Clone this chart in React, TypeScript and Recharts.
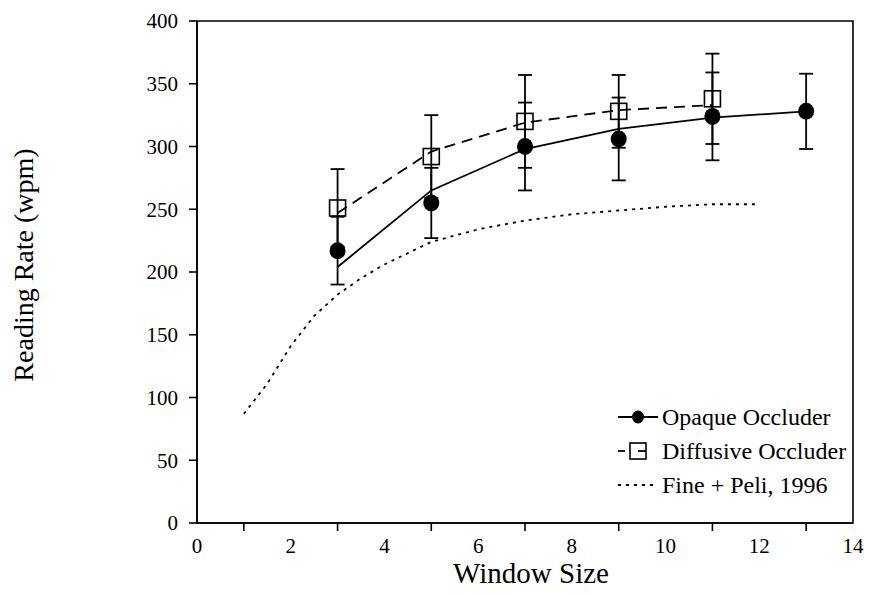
import {
  ComposedChart,
  ErrorBar,
  Label,
  Legend,
  Line,
  ReferenceArea,
  Scatter,
  XAxis,
  YAxis,
} from 'recharts';

const FONT = "'Liberation Serif', 'Times New Roman', serif";
const INK = '#000';

// window sizes (letters)
const opaqueSizes = [3, 5, 7, 9, 11, 13];
const opaqueMean = [217, 255, 300, 306, 324, 328];
const opaqueErr = [27, 28, 35, 33, 35, 30];
const opaqueFit = [204, 265, 298, 314, 323, 328];

const diffuseSizes = [3, 5, 7, 9, 11];
const diffuseMean = [251, 292, 320, 328, 338];
const diffuseErr = [31, 33, 37, 29, 36];
const diffuseFit = [247, 296, 319, 329, 333];

const finePeliSizes = [1, 1.5, 2, 2.5, 3, 3.5, 4, 5, 6, 7, 8, 9, 10, 11, 12];
const finePeliRate = [87, 111, 141, 165, 182, 195, 206, 224, 234, 241, 246, 249, 252, 254, 254];

const xTicks = [0, 1, 2, 3, 4, 5, 6, 7, 8, 9, 10, 11, 12, 13, 14];
const yTicks = [0, 50, 100, 150, 200, 250, 300, 350, 400];

const SERIES_OPAQUE = 'Opaque Occluder';
const SERIES_DIFFUSE = 'Diffusive Occluder';
const SERIES_FP = 'Fine + Peli, 1996';

const rows = (xs: number[], ys: number[], errs?: number[]) =>
  xs.map((x, i) => ({ x, y: ys[i], err: errs ? errs[i] : 0 }));

const opaquePoints = rows(opaqueSizes, opaqueMean, opaqueErr);
const opaqueCurve = rows(opaqueSizes, opaqueFit);
const diffusePoints = rows(diffuseSizes, diffuseMean, diffuseErr);
const diffuseCurve = rows(diffuseSizes, diffuseFit);
const finePeliCurve = rows(finePeliSizes, finePeliRate);

// odd values get a tick mark only, even values a label only
function XTick(props: any) {
  const { x, y, payload } = props;
  const v = payload.value;
  if (v % 2 === 1) {
    return <line x1={x} x2={x} y1={y} y2={y + 8} stroke={INK} strokeWidth={1.6} />;
  }
  return (
    <text x={x} y={y + 30} textAnchor="middle" fontSize={21} fontFamily={FONT} fill={INK}>
      {v}
    </text>
  );
}

const Dot = (props: any) => <ellipse cx={props.cx} cy={props.cy} rx={8} ry={8.5} fill={INK} />;

const Box = (props: any) => (
  <rect x={props.cx - 8} y={props.cy - 8} width={16} height={16} fill="none" stroke={INK} strokeWidth={1.6} />
);

function LegendBlock() {
  const row = (symbol: any, text: string) => (
    <div style={{ display: 'flex', alignItems: 'center', height: 34 }}>
      <svg width={46} height={24}>{symbol}</svg>
      <span style={{ fontFamily: FONT, fontSize: 24, color: INK, marginLeft: 1 }}>{text}</span>
    </div>
  );
  return (
    <div>
      {row(
        <g>
          <line x1={3} x2={43} y1={12} y2={12} stroke={INK} strokeWidth={1.8} />
          <ellipse cx={23} cy={12} rx={6} ry={6.5} fill={INK} />
        </g>,
        SERIES_OPAQUE,
      )}
      {row(
        <g>
          <line x1={3} x2={10} y1={12} y2={12} stroke={INK} strokeWidth={1.8} />
          <line x1={23} x2={31} y1={12} y2={12} stroke={INK} strokeWidth={1.8} />
          <rect x={15} y={4} width={16} height={16} fill="none" stroke={INK} strokeWidth={1.6} />
        </g>,
        SERIES_DIFFUSE,
      )}
      {row(
        <line x1={3} x2={42} y1={12} y2={12} stroke={INK} strokeWidth={1.8} strokeDasharray="3 5" />,
        SERIES_FP,
      )}
    </div>
  );
}

export default function App() {
  return (
    <div style={{ position: 'absolute', left: 0, top: 0, background: '#fff' }}>
      <ComposedChart width={878} height={595} margin={{ top: 21, right: 25, bottom: 12, left: 0 }}>
        <XAxis
          dataKey="x"
          type="number"
          domain={[0, 14]}
          ticks={xTicks}
          interval={0}
          tick={<XTick />}
          tickLine={false}
          tickSize={0}
          tickMargin={0}
          height={60}
          axisLine={{ stroke: INK, strokeWidth: 1.6 }}
        >
          <Label
            content={({ viewBox }: any) => (
              <text
                x={viewBox.x + viewBox.width / 2 + 6}
                y={viewBox.y + 60}
                textAnchor="middle"
                fontSize={29}
                fontFamily={FONT}
                fill={INK}
              >
                Window Size
              </text>
            )}
          />
        </XAxis>
        <YAxis
          dataKey="y"
          type="number"
          domain={[0, 400]}
          ticks={yTicks}
          interval={0}
          width={197}
          tickSize={8}
          tickMargin={11}
          tick={{ fontSize: 21, fontFamily: FONT, fill: INK }}
          tickLine={{ stroke: INK, strokeWidth: 1.6 }}
          axisLine={{ stroke: INK, strokeWidth: 1.6 }}
        >
          <Label
            content={({ viewBox }: any) => {
              const cx = viewBox.x + 33;
              const cy = viewBox.y + viewBox.height / 2 - 7;
              return (
                <text
                  x={cx}
                  y={cy}
                  transform={`rotate(-90 ${cx} ${cy})`}
                  textAnchor="middle"
                  fontSize={28}
                  fontFamily={FONT}
                  fill={INK}
                >
                  Reading Rate (wpm)
                </text>
              );
            }}
          />
        </YAxis>
        <ReferenceArea x1={0} x2={14} y1={0} y2={400} fill="none" stroke={INK} strokeWidth={1.6} />
        <Line
          data={finePeliCurve}
          dataKey="y"
          name={SERIES_FP}
          type="linear"
          stroke={INK}
          strokeWidth={1.8}
          strokeDasharray="3 5"
          dot={false}
          activeDot={false}
          isAnimationActive={false}
        />
        <Line
          data={diffuseCurve}
          dataKey="y"
          name={SERIES_DIFFUSE}
          type="linear"
          stroke={INK}
          strokeWidth={1.8}
          strokeDasharray="11 7"
          dot={false}
          activeDot={false}
          isAnimationActive={false}
        />
        <Line
          data={opaqueCurve}
          dataKey="y"
          name={SERIES_OPAQUE}
          type="linear"
          stroke={INK}
          strokeWidth={1.8}
          dot={false}
          activeDot={false}
          isAnimationActive={false}
        />
        <Scatter data={diffusePoints} dataKey="y" shape={<Box />} isAnimationActive={false}>
          <ErrorBar dataKey="err" direction="y" width={7} stroke={INK} strokeWidth={1.8} />
        </Scatter>
        <Scatter data={opaquePoints} dataKey="y" shape={<Dot />} isAnimationActive={false}>
          <ErrorBar dataKey="err" direction="y" width={7} stroke={INK} strokeWidth={1.8} />
        </Scatter>
        <Legend
          layout="vertical"
          align="center"
          verticalAlign="middle"
          content={() => <LegendBlock />}
          wrapperStyle={{ left: 615, top: 400, width: 260 }}
        />
      </ComposedChart>
    </div>
  );
}
